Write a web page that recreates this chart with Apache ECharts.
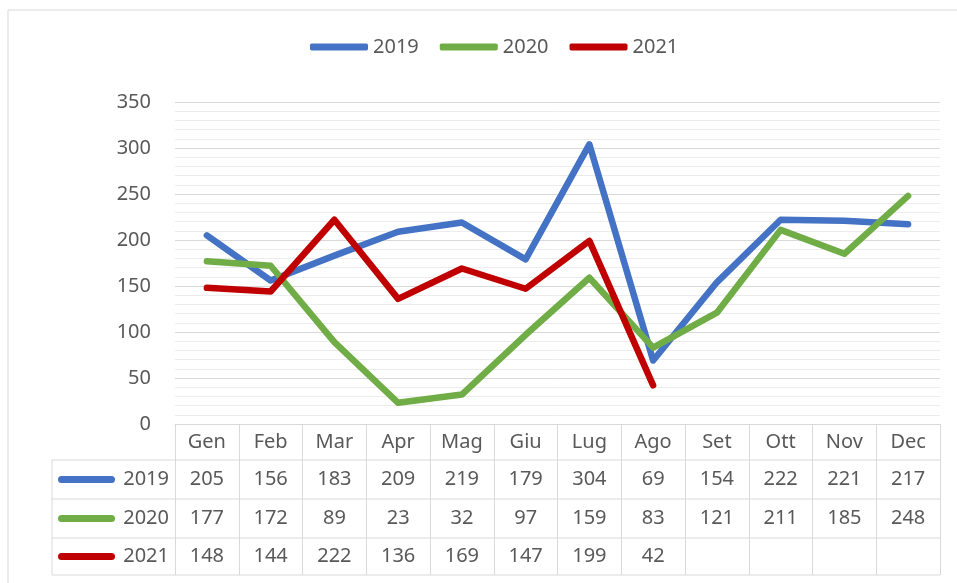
<!DOCTYPE html>
<html lang="it">
<head>
    <meta charset="UTF-8">
    <title>2019-2021</title>
    <script src="https://cdn.jsdelivr.net/npm/echarts@6/dist/echarts.min.js"></script>
    <style>
        html, body { margin: 0; padding: 0; background: #fff; }
        #main { width: 957px; height: 583px; }
    </style>
</head>
<body>
<div id="main"></div>
<script type="text/javascript">
    // dati
    var months = ['Gen', 'Feb', 'Mar', 'Apr', 'Mag', 'Giu', 'Lug', 'Ago', 'Set', 'Ott', 'Nov', 'Dec'];
    var years = ['2019', '2020', '2021'];
    var v2019 = [205, 156, 183, 209, 219, 179, 304, 69, 154, 222, 221, 217];
    var v2020 = [177, 172, 89, 23, 32, 97, 159, 83, 121, 211, 185, 248];
    var v2021 = [148, 144, 222, 136, 169, 147, 199, 42, null, null, null, null];
    var colors = ['#4472C4', '#70AD47', '#C00000'];

    var font = 'Noto Sans';
    var fs = 20;
    var txt = '#595959';
    var lineCol = '#d9d9d9';
    var rows = [v2019, v2020, v2021];

    var chart = echarts.init(document.getElementById('main'));
    var option = {
        animation: false,
        color: colors,
        legend: {
            data: years,
            top: 32,
            left: 305,
            icon: 'roundRect',
            itemWidth: 58,
            itemHeight: 7,
            itemGap: 21,
            textStyle: { fontFamily: font, fontSize: fs, color: txt }
        },
        grid: { left: 175, right: 17, top: 102, bottom: 159 },
        xAxis: {
            type: 'category',
            data: months,
            boundaryGap: true,
            axisLine: { show: true, lineStyle: { color: lineCol } },
            axisTick: { show: true, interval: 0, length: 151, lineStyle: { color: lineCol } },
            axisLabel: { show: false }
        },
        yAxis: {
            type: 'value',
            min: 0,
            max: 350,
            interval: 50,
            axisLine: { show: false },
            axisTick: { show: false },
            axisLabel: { margin: 24, fontFamily: font, fontSize: fs, color: txt },
            splitLine: { lineStyle: { color: lineCol } },
            minorTick: { show: false, splitNumber: 5 },
            minorSplitLine: { show: true, lineStyle: { color: '#ececec' } }
        },
        series: years.map(function (y, i) {
            return {
                name: y,
                type: 'line',
                data: rows[i],
                symbol: 'none',
                lineStyle: { width: 6.5, cap: 'round', join: 'round' }
            };
        })
    };
    chart.setOption(option);

    // tabella dati sotto il grafico
    var y0 = chart.convertToPixel({ yAxisIndex: 0 }, 0);
    var xR = 940, labL = 52;
    var rowEdges = [y0, y0 + 36, y0 + 75, y0 + 114, y0 + 151];
    var cellFont = fs + 'px "' + font + '"';
    var g = [];
    g.push({ type: 'rect', shape: { x: 8, y: 10, width: 1000, height: 600 }, style: { fill: 'none', stroke: lineCol, lineWidth: 1 }, silent: true });
    for (var r = 1; r < rowEdges.length; r++) {
        g.push({ type: 'line', shape: { x1: labL, y1: rowEdges[r], x2: xR, y2: rowEdges[r] }, style: { stroke: lineCol, lineWidth: 1 } });
    }
    g.push({ type: 'line', shape: { x1: labL, y1: rowEdges[1], x2: labL, y2: rowEdges[4] }, style: { stroke: lineCol, lineWidth: 1 } });
    months.forEach(function (m, i) {
        var x = chart.convertToPixel({ xAxisIndex: 0 }, i);
        g.push({ type: 'text', x: x, y: (rowEdges[0] + rowEdges[1]) / 2, style: { text: m, fill: txt, font: cellFont, align: 'center', verticalAlign: 'middle' } });
        rows.forEach(function (vals, k) {
            if (vals[i] == null) return;
            var cy = (rowEdges[k + 1] + rowEdges[k + 2]) / 2;
            g.push({ type: 'text', x: x, y: cy, style: { text: String(vals[i]), fill: txt, font: cellFont, align: 'center', verticalAlign: 'middle' } });
        });
    });
    years.forEach(function (y, k) {
        var cy = (rowEdges[k + 1] + rowEdges[k + 2]) / 2;
        g.push({ type: 'rect', shape: { x: 58, y: cy - 3.5, width: 57, height: 7, r: 3.5 }, style: { fill: colors[k] } });
        g.push({ type: 'text', x: 169, y: cy, style: { text: y, fill: txt, font: cellFont, align: 'right', verticalAlign: 'middle' } });
    });
    chart.setOption({ graphic: g });
</script>
</body>
</html>
